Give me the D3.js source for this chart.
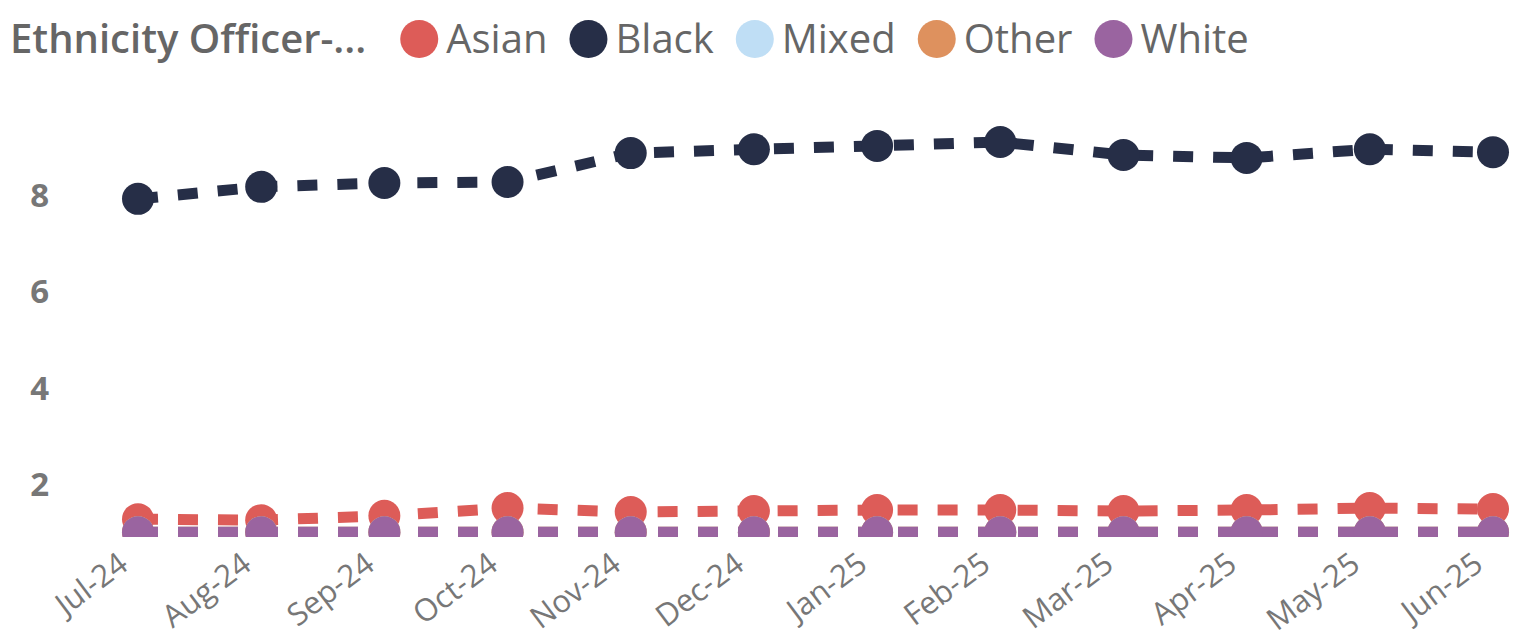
<!DOCTYPE html>
<html>
<head>
<meta charset="utf-8">
<script src="https://cdn.jsdelivr.net/npm/d3@7"></script>
<style>
  body { margin: 0; background: #fff; }
  svg { display: block; font-family: "Segoe UI", "Open Sans", sans-serif; }
</style>
</head>
<body>
<svg id="chart"></svg>
<script>
// data
const months = ['Jul-24', 'Aug-24', 'Sep-24', 'Oct-24', 'Nov-24', 'Dec-24',
                'Jan-25', 'Feb-25', 'Mar-25', 'Apr-25', 'May-25', 'Jun-25'];
const seriesNames = ['Asian', 'Black', 'Mixed', 'Other', 'White'];
const asian = [1.27, 1.25, 1.34, 1.50, 1.42, 1.44, 1.46, 1.46, 1.44, 1.46, 1.50, 1.48];
const black = [7.92, 8.17, 8.25, 8.27, 8.87, 8.95, 9.02, 9.10, 8.83, 8.77, 8.95, 8.89];
const mixed = [1, 1, 1, 1, 1, 1, 1, 1, 1, 1, 1, 1];
const other = [1, 1, 1, 1, 1, 1, 1, 1, 1, 1, 1, 1];
const white = [1, 1, 1, 1, 1, 1, 1, 1, 1, 1, 1, 1];
const yTicks = [2, 4, 6, 8];
const legendTitle = 'Ethnicity Officer-...';

const colors = {
  Asian: '#DD5C58',
  Black: '#262E47',
  Mixed: '#BFDEF5',
  Other: '#DE915E',
  White: '#9A64A0'
};
const values = { Asian: asian, Black: black, Mixed: mixed, Other: other, White: white };

const width = 1536;
const height = 641;
const plotBottom = 537;

const svg = d3.select('#chart')
  .attr('width', width)
  .attr('height', height);

const x = d3.scalePoint()
  .domain(months)
  .range([138, 1493]);

const y = d3.scaleLinear()
  .domain([0.9, 9.3])
  .range([plotBottom, 132.4]);

svg.append('clipPath')
  .attr('id', 'plotClip')
  .append('rect')
  .attr('x', 0)
  .attr('y', 0)
  .attr('width', width)
  .attr('height', plotBottom);

// y axis labels
const yAxis = svg.append('g')
  .attr('transform', 'translate(49,0)')
  .call(d3.axisLeft(y).tickValues(yTicks).tickSize(0).tickPadding(0));
yAxis.select('.domain').remove();
yAxis.selectAll('text')
  .attr('fill', '#777')
  .style('font-family', '"Open Sans", sans-serif')
  .style('font-size', '33px')
  .style('font-weight', 'bold')
  .attr('dy', '0.35em');

// x axis labels, rotated
svg.append('g')
  .selectAll('text')
  .data(months)
  .enter().append('text')
  .attr('transform', d => `translate(${x(d) - 8},568) rotate(-37)`)
  .attr('text-anchor', 'end')
  .attr('fill', '#777')
  .style('font-size', '31px')
  .text(d => d);

// series
const plot = svg.append('g').attr('clip-path', 'url(#plotClip)');

const line = d3.line()
  .x((d, i) => x(months[i]))
  .y(d => y(d));

seriesNames.forEach(name => {
  const g = plot.append('g');
  g.append('path')
    .datum(values[name])
    .attr('d', line)
    .attr('fill', 'none')
    .attr('stroke', colors[name])
    .attr('stroke-width', 11)
    .attr('stroke-dasharray', '20,20');
  g.selectAll('circle')
    .data(values[name])
    .enter().append('circle')
    .attr('cx', (d, i) => x(months[i]))
    .attr('cy', d => y(d))
    .attr('r', 16)
    .attr('fill', colors[name]);
});

// legend
const legend = svg.append('g').attr('transform', 'translate(0,39)');
const title = legend.append('text')
  .attr('x', 10)
  .attr('dy', '0.35em')
  .attr('fill', '#666')
  .style('font-size', '40px')
  .style('font-weight', 600)
  .text(legendTitle);

let lx = 10 + title.node().getComputedTextLength() + 34;
seriesNames.forEach(name => {
  legend.append('circle')
    .attr('cx', lx + 19)
    .attr('cy', 0)
    .attr('r', 19)
    .attr('fill', colors[name]);
  const t = legend.append('text')
    .attr('x', lx + 46)
    .attr('dy', '0.35em')
    .attr('fill', '#666')
    .style('font-size', '40px')
    .text(name);
  lx += 46 + t.node().getComputedTextLength() + 22;
});
</script>
</body>
</html>
